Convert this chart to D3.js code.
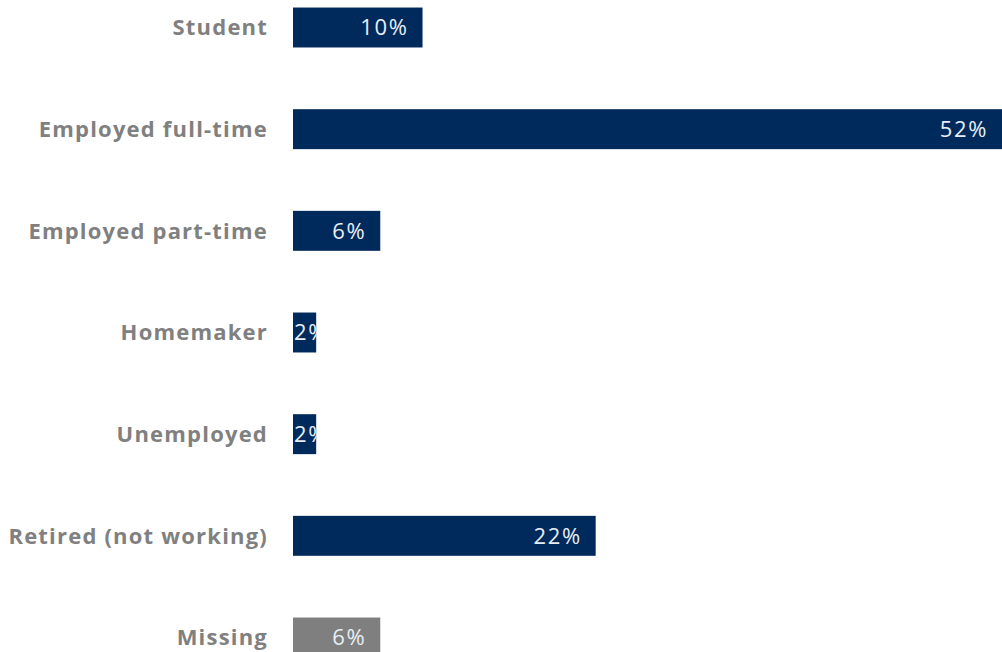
<!DOCTYPE html>
<html><head><meta charset="utf-8">
<script src="https://cdn.jsdelivr.net/npm/d3@7"></script>
<style>html,body{margin:0;padding:0;background:#fff;overflow:hidden}</style>
</head><body>
<svg id="chart" width="1002" height="652"></svg>
<script>
const categories = ["Student","Employed full-time","Employed part-time","Homemaker","Unemployed","Retired (not working)","Missing"];
const values = [9.5, 52, 6.4, 1.7, 1.7, 22.2, 6.4];
const labels = ["10%","52%","6%","2%","2%","22%","6%"];
const colors = ["#002a5c","#002a5c","#002a5c","#002a5c","#002a5c","#002a5c","#7f7f7f"];

const svg = d3.select("#chart");
const x = d3.scaleLinear().domain([0, 52]).range([293, 1002]);
const y = d3.scaleBand().domain(categories).range([0, 665]).paddingInner(0.607).paddingOuter(0.074);

const defs = svg.append("defs");
const g = svg.append("g");
categories.forEach((c, i) => {
  defs.append("clipPath").attr("id", "clip" + i).append("rect")
    .attr("x", x(0)).attr("y", y(c)).attr("width", x(values[i]) - x(0)).attr("height", y.bandwidth());
});

g.selectAll("rect.bar").data(categories).join("rect").attr("class","bar")
  .attr("x", x(0)).attr("y", d => y(d))
  .attr("width", (d,i) => x(values[i]) - x(0))
  .attr("height", y.bandwidth())
  .attr("fill", (d,i) => colors[i]);

g.selectAll("text.cat").data(categories).join("text").attr("class","cat")
  .attr("x", 268).attr("y", d => y(d) + y.bandwidth()/2)
  .attr("dy", "0.36em").attr("text-anchor","end")
  .attr("font-family","'Open Sans', sans-serif").attr("font-weight","bold")
  .attr("font-size", 22).attr("letter-spacing", 1.2).attr("fill","#808080")
  .text(d => d);

g.selectAll("text.val").data(categories).join("text").attr("class","val")
  .attr("clip-path", (d,i) => `url(#clip${i})`)
  .attr("x", (d,i) => (x(values[i]) - x(0) > 50) ? x(values[i]) - 14 : x(0) + 1)
  .attr("text-anchor", (d,i) => (x(values[i]) - x(0) > 50) ? "end" : "start")
  .attr("y", d => y(d) + y.bandwidth()/2)
  .attr("dy", "0.36em")
  .attr("font-family","'Open Sans', sans-serif")
  .attr("font-size", 22).attr("letter-spacing", 1.6).attr("fill","#e8eef5")
  .text((d,i) => labels[i]);
</script>
</body></html>
